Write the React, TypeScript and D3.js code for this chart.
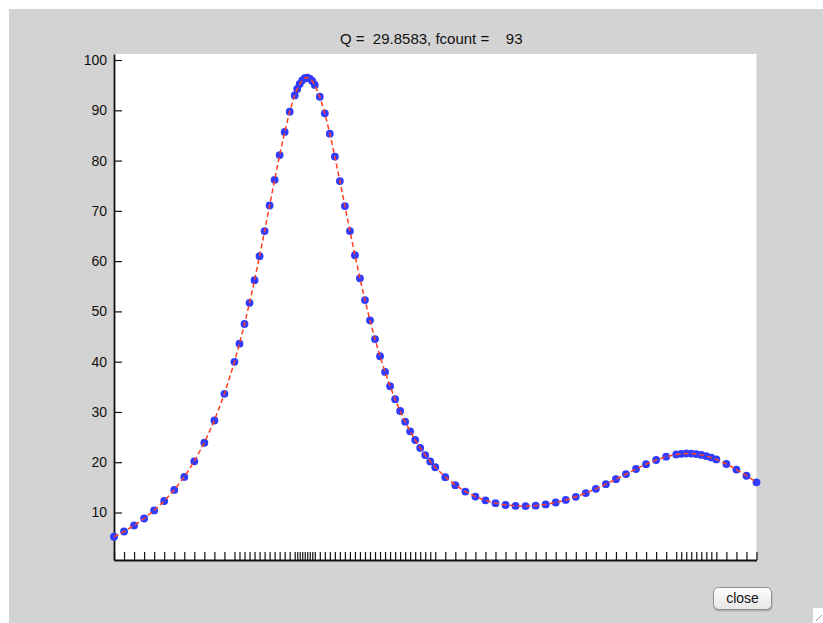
import { useEffect, useRef } from "react";
import * as d3 from "d3";

// evaluation points of the adaptive quadrature (x) and the integrand values there (y)
const xs = [
  0.0, 0.015625, 0.03125, 0.046875, 0.0625, 0.078125, 0.09375, 0.109375, 0.125, 0.140625,
  0.15625, 0.171875, 0.1875, 0.195313, 0.203125, 0.210938, 0.21875, 0.226563, 0.234375, 0.242188,
  0.25, 0.257813, 0.265625, 0.273438, 0.28125, 0.285156, 0.289063, 0.292969, 0.296875, 0.300781,
  0.304688, 0.308594, 0.3125, 0.320313, 0.328125, 0.335938, 0.34375, 0.351563, 0.359375, 0.367188,
  0.375, 0.382813, 0.390625, 0.398438, 0.40625, 0.414063, 0.421875, 0.429688, 0.4375, 0.445313,
  0.453125, 0.460938, 0.46875, 0.476563, 0.484375, 0.492188, 0.5, 0.515625, 0.53125, 0.546875,
  0.5625, 0.578125, 0.59375, 0.609375, 0.625, 0.640625, 0.65625, 0.671875, 0.6875, 0.703125,
  0.71875, 0.734375, 0.75, 0.765625, 0.78125, 0.796875, 0.8125, 0.828125, 0.84375, 0.859375,
  0.875, 0.882813, 0.890625, 0.898438, 0.90625, 0.914063, 0.921875, 0.929688, 0.9375, 0.953125,
  0.96875, 0.984375, 1.0,
];

const ys = [
  5.1765, 6.2212, 7.4198, 8.8027, 10.4076, 12.2814, 14.4827, 17.0842, 20.1764, 23.8699,
  28.2973, 33.6097, 39.9639, 43.5748, 47.4894, 51.7083, 56.219, 60.9906, 65.9678, 71.0651,
  76.1622, 81.1016, 85.6926, 89.7211, 92.9687, 94.2363, 95.2377, 95.9561, 96.3792, 96.4998,
  96.3163, 95.8326, 95.0579, 92.6968, 89.3942, 85.3542, 80.7964, 75.9315, 70.9446, 65.9857,
  61.1683, 56.5715, 52.2455, 48.2171, 44.4962, 41.0803, 37.9587, 35.1158, 32.5331, 30.1909,
  28.0697, 26.1504, 24.4151, 22.847, 21.4308, 20.1526, 19.0, 17.0273, 15.4364, 14.1667,
  13.1707, 12.4114, 11.8598, 11.4941, 11.2973, 11.2567, 11.3628, 11.6082, 11.987, 12.4936,
  13.1217, 13.863, 14.7059, 15.6336, 16.6228, 17.6421, 18.6512, 19.6018, 20.439, 21.1063,
  21.5512, 21.6766, 21.732, 21.7149, 21.6243, 21.4605, 21.2251, 20.921, 20.5524, 19.6429,
  18.5452, 17.3132, 16.0,
];

const yTicks = [10, 20, 30, 40, 50, 60, 70, 80, 90, 100];
const title = "Q =  29.8583, fcount =    93";

export default function App() {
  const ref = useRef<SVGSVGElement | null>(null);

  useEffect(() => {
    const width = 823;
    const height = 623;
    const margin = { top: 54, right: 66.5, bottom: 63, left: 114 };
    const font = "'Liberation Sans', Arial, Helvetica, sans-serif";

    const svg = d3.select(ref.current);
    svg.selectAll("*").remove(); // clear before re-render

    // page + figure window
    svg.append("rect").attr("width", width).attr("height", height).attr("fill", "#ffffff");
    svg.append("rect")
      .attr("x", 9).attr("y", 9)
      .attr("width", width - 9).attr("height", height - 9)
      .attr("fill", "#d3d3d3");

    const x = d3.scaleLinear()
      .domain([0, 1])
      .range([margin.left, width - margin.right]);

    const y = d3.scaleLinear()
      .domain([0.55, 101.2])
      .range([height - margin.bottom, margin.top]);

    // axes area
    svg.append("rect")
      .attr("x", margin.left).attr("y", margin.top)
      .attr("width", width - margin.right - margin.left)
      .attr("height", height - margin.bottom - margin.top)
      .attr("fill", "#ffffff");

    const xAxis = svg.append("g")
      .attr("transform", `translate(0,${height - margin.bottom})`)
      .call(d3.axisBottom(x).tickValues(xs).tickSize(-8).tickSizeOuter(0).tickFormat(() => ""));

    const yAxis = svg.append("g")
      .attr("transform", `translate(${margin.left},0)`)
      .call(d3.axisLeft(y).tickValues(yTicks).tickSize(-8).tickSizeOuter(0).tickPadding(7));

    [xAxis, yAxis].forEach(g => {
      g.select(".domain").attr("stroke", "#111").attr("stroke-width", 1.8);
      g.selectAll(".tick line").attr("stroke", "#111").attr("stroke-width", 1.2);
    });
    yAxis.selectAll(".tick text")
      .attr("fill", "#111")
      .style("font-family", font)
      .style("font-size", "14px");

    // evaluated points
    svg.append("g")
      .selectAll("circle")
      .data(xs)
      .join("circle")
      .attr("cx", d => x(d))
      .attr("cy", (_, i) => y(ys[i]))
      .attr("r", 3.9)
      .attr("fill", "#2f3cff");

    // dashed integrand curve over the dots
    const line = d3.line<number>()
      .x(d => x(d))
      .y((_, i) => y(ys[i]));

    svg.append("path")
      .datum(xs)
      .attr("d", line)
      .attr("fill", "none")
      .attr("stroke", "#ff4020")
      .attr("stroke-width", 1.5)
      .attr("stroke-dasharray", "5,3");

    // title
    svg.append("text")
      .attr("x", (margin.left + width - margin.right) / 2 - 4)
      .attr("y", 44)
      .attr("text-anchor", "middle")
      .attr("fill", "#111")
      .style("font-family", font)
      .style("font-size", "15px")
      .style("white-space", "pre")
      .text(title);

    // close button
    const btn = svg.append("g").attr("transform", "translate(713,587)");
    const grad = svg.append("defs").append("linearGradient")
      .attr("id", "btnGrad").attr("x1", 0).attr("x2", 0).attr("y1", 0).attr("y2", 1);
    grad.append("stop").attr("offset", "0%").attr("stop-color", "#ffffff");
    grad.append("stop").attr("offset", "100%").attr("stop-color", "#e6e6e6");
    btn.append("rect")
      .attr("x", 0.5).attr("y", 1.5).attr("width", 59).attr("height", 23)
      .attr("rx", 5).attr("fill", "#9a9a9a").attr("opacity", 0.6);
    btn.append("rect")
      .attr("x", 0.5).attr("y", 0.5).attr("width", 58).attr("height", 22)
      .attr("rx", 5).attr("fill", "url(#btnGrad)")
      .attr("stroke", "#8c8c8c").attr("stroke-width", 1);
    btn.append("text")
      .attr("x", 29.5).attr("y", 16)
      .attr("text-anchor", "middle")
      .attr("fill", "#111")
      .style("font-family", font)
      .style("font-size", "14px")
      .text("close");

    // window resize corner
    svg.append("rect")
      .attr("x", 813).attr("y", 608).attr("width", 10).attr("height", 15)
      .attr("fill", "#ffffff");
    svg.append("line")
      .attr("x1", 816).attr("y1", 621).attr("x2", 822).attr("y2", 615)
      .attr("stroke", "#999").attr("stroke-width", 1);
  }, []);

  return (
    <svg
      ref={ref}
      width={823}
      height={623}
      style={{ position: "absolute", left: 0, top: 0, display: "block" }}
    />
  );
}
